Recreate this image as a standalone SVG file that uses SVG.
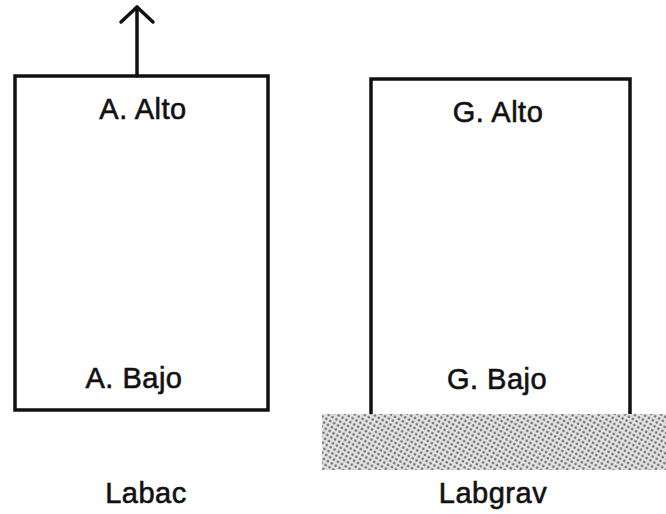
<svg xmlns="http://www.w3.org/2000/svg" width="666" height="514" viewBox="0 0 666 514">
<defs>
<style>
.box{fill:none;stroke:#111;stroke-width:3.5}
.t{font-family:"Liberation Sans",Arial,sans-serif;font-size:29px;fill:#111;stroke:#111;stroke-width:0.6;text-anchor:middle;letter-spacing:0.5px}
.ln{fill:none;stroke:#111;stroke-width:3.5;stroke-linecap:round;stroke-linejoin:round}
</style>
<pattern id="dots" width="4.5" height="4.5" patternUnits="userSpaceOnUse" patternTransform="rotate(30)">
<rect width="4.5" height="4.5" fill="#e2e2e2"/>
<circle cx="1.5" cy="1.5" r="1.3" fill="#6e6e6e"/>
</pattern>
</defs>
<rect id="ground" x="322" y="414" width="344" height="56" fill="url(#dots)"/>
<g id="labac">
<rect class="box" x="15" y="76" width="253" height="334"/>
<text class="t" x="143" y="119">A. Alto</text>
<text class="t" x="134" y="388">A. Bajo</text>
<text class="t" x="146" y="503">Labac</text>
</g>
<g id="labgrav">
<path class="box" d="M371 414 V79 H630 V414"/>
<text class="t" x="498" y="122">G. Alto</text>
<text class="t" x="497" y="389">G. Bajo</text>
<text class="t" x="493" y="503">Labgrav</text>
</g>
<g id="connectors">
<path class="ln" d="M137 76 V7"/>
<path class="ln" d="M121 22 L137 7 L153 22"/>
</g>
</svg>
